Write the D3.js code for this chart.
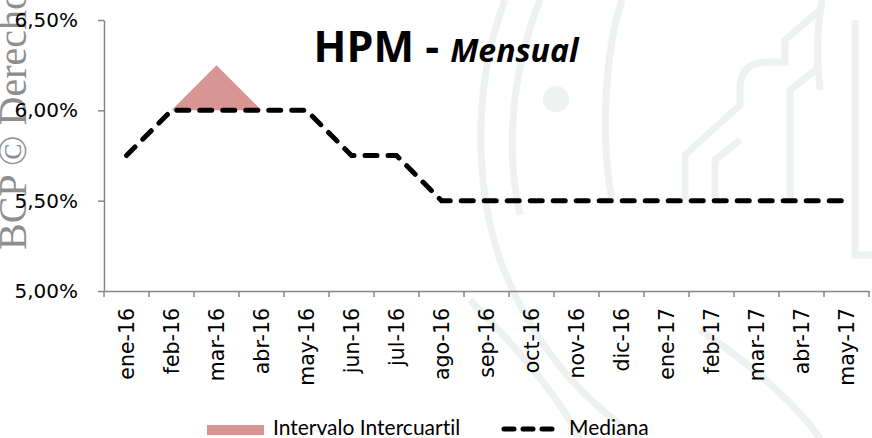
<!DOCTYPE html>
<html>
<head>
<meta charset="utf-8">
<script src="https://cdn.jsdelivr.net/npm/d3@7"></script>
<style>
  body { margin: 0; background: #fff; }
  svg { display: block; font-family: "Lato", "Open Sans", sans-serif; font-variant-ligatures: none; }
</style>
</head>
<body>
<svg id="chart" width="872" height="438"></svg>
<script>
// data
const months = ['ene-16','feb-16','mar-16','abr-16','may-16','jun-16','jul-16','ago-16','sep-16',
                'oct-16','nov-16','dic-16','ene-17','feb-17','mar-17','abr-17','may-17'];
const mediana = [5.75, 6.00, 6.00, 6.00, 6.00, 5.75, 5.75, 5.50, 5.50, 5.50, 5.50, 5.50, 5.50, 5.50, 5.50, 5.50, 5.50];
// interquartile band (only non-flat around feb-abr 2016)
const bandMonths = ['feb-16','mar-16','abr-16'];
const q1 = [6.00, 6.00, 6.00];
const q3 = [6.00, 6.25, 6.00];
const yTicks = [5.0, 5.5, 6.0, 6.5];

const svg = d3.select('#chart');
const axisColor = '#868686';
const logoColor = '#edf1f0';

// faint background logo
const bg = svg.append('g').attr('fill', 'none').attr('stroke', logoColor).attr('stroke-width', 7);
bg.append('path').attr('d', 'M505,0 C478,70 470,170 500,260 C530,340 580,400 640,438');
bg.append('path').attr('d', 'M540,0 C512,70 505,150 520,215');
bg.append('path').attr('d', 'M622,0 C605,50 600,140 612,200');
bg.append('path').attr('d', 'M685,200 L685,155 L740,105 L740,85 Q742,62 768,62 L785,62 L785,40 L820,10');
bg.append('path').attr('d', 'M715,200 L715,160 L740,140');
bg.append('path').attr('d', 'M790,200 L790,90 L818,68');
bg.append('path').attr('d', 'M822,0 C815,40 818,70 820,90');
bg.append('path').attr('d', 'M855,20 L855,255 L872,255');
bg.append('path').attr('d', 'M470,300 C520,350 560,400 580,438');
bg.append('path').attr('d', 'M700,330 C760,370 800,410 820,438');
bg.append('circle').attr('cx', 556).attr('cy', 99).attr('r', 13).attr('fill', logoColor).attr('stroke', 'none');

// watermark on left edge
svg.append('text')
  .attr('transform', 'translate(26,250) rotate(-90)')
  .attr('font-family', 'Liberation Serif, DejaVu Serif, serif')
  .attr('font-size', 40)
  .attr('fill', '#8e8e8e')
  .text('BCP © Derecho');

const margin = { left: 104, right: 3, top: 20, bottom: 147 };
const W = 872, H = 438;

const x = d3.scaleBand().domain(months).range([margin.left, W - margin.right]).paddingInner(0).paddingOuter(0);
const y = d3.scaleLinear().domain([5.0, 6.5]).range([H - margin.bottom, margin.top]);
const cx = m => x(m) + x.bandwidth() / 2;

// y axis
const yAxis = svg.append('g')
  .attr('transform', `translate(${margin.left},0)`)
  .call(d3.axisLeft(y).tickValues(yTicks).tickSize(6).tickSizeOuter(0)
    .tickFormat(d => d3.format('.2f')(d).replace('.', ',') + '%'));
yAxis.select('.domain').attr('stroke', axisColor).attr('stroke-width', 1.5);
yAxis.selectAll('.tick line').attr('stroke', axisColor).attr('stroke-width', 1.5);
yAxis.selectAll('.tick text').attr('font-size', 20).attr('fill', '#000').attr('x', -26)
  .attr('font-family', 'DejaVu Sans, sans-serif');

// x axis
const xAxis = svg.append('g')
  .attr('transform', `translate(0,${y(5.0)})`)
  .call(d3.axisBottom(x).tickSize(0).tickSizeOuter(0));
xAxis.select('.domain').attr('stroke', axisColor).attr('stroke-width', 1.5);
xAxis.selectAll('.tick text')
  .attr('font-size', 20.5)
  .attr('font-family', 'DejaVu Sans, sans-serif')
  .attr('fill', '#000')
  .attr('text-anchor', 'end')
  .attr('dy', '0.35em')
  .attr('transform', 'translate(0,17) rotate(-90)')
  .attr('x', 0).attr('y', 0);
// tick marks between categories
svg.append('g').selectAll('line')
  .data(months.concat(['_end']))
  .join('line')
  .attr('x1', (d, i) => i < months.length ? x(d) : x.range()[1])
  .attr('x2', (d, i) => i < months.length ? x(d) : x.range()[1])
  .attr('y1', y(5.0))
  .attr('y2', y(5.0) + 6)
  .attr('stroke', axisColor)
  .attr('stroke-width', 1.5);

// interquartile area
const area = d3.area()
  .x((d, i) => cx(bandMonths[i]))
  .y0((d, i) => y(q1[i]))
  .y1((d, i) => y(q3[i]));
svg.append('path')
  .datum(q3)
  .attr('d', area)
  .attr('fill', '#d99594');

// median line
const line = d3.line()
  .x((d, i) => cx(months[i]))
  .y(d => y(d));
svg.append('path')
  .datum(mediana)
  .attr('d', line)
  .attr('fill', 'none')
  .attr('stroke', '#000')
  .attr('stroke-width', 5)
  .attr('stroke-linecap', 'round')
  .attr('stroke-dasharray', '12,11');

// title
const title = svg.append('text')
  .attr('x', 446).attr('y', 62)
  .attr('text-anchor', 'middle')
  .attr('font-family', 'Open Sans, sans-serif')
  .attr('font-weight', 'bold');
title.append('tspan').attr('font-size', 43).text('HPM - ');
title.append('tspan').attr('font-size', 32).attr('font-style', 'italic').text('Mensual');

// legend
const leg = svg.append('g').attr('font-size', 21).attr('font-family', 'Lato, sans-serif');
leg.append('rect').attr('x', 207).attr('y', 425).attr('width', 57).attr('height', 10).attr('fill', '#d99594');
leg.append('text').attr('x', 273).attr('y', 435).text('Intervalo Intercuartil');
leg.append('line').attr('x1', 504).attr('x2', 552).attr('y1', 429).attr('y2', 429)
  .attr('stroke', '#000').attr('stroke-width', 5).attr('stroke-linecap', 'round').attr('stroke-dasharray', '10,9');
leg.append('text').attr('x', 569).attr('y', 435).text('Mediana');
</script>
</body>
</html>
